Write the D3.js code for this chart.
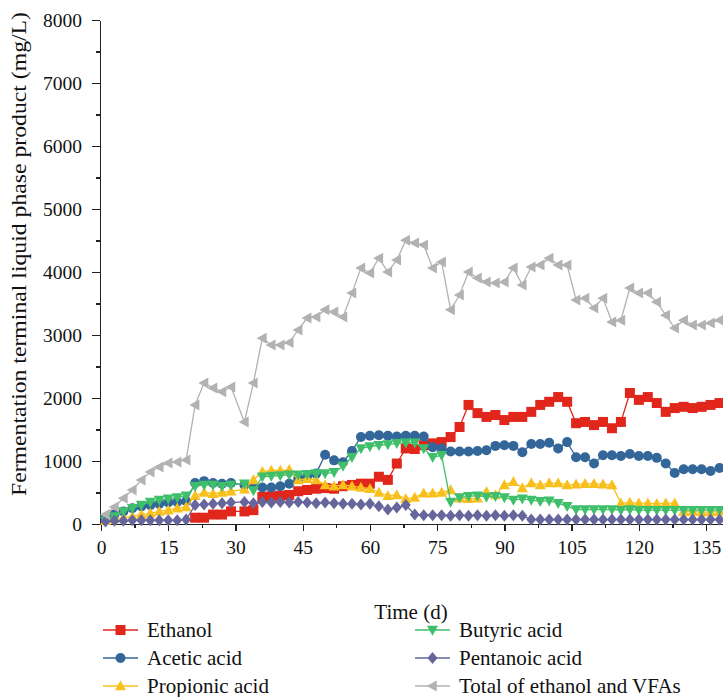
<!DOCTYPE html>
<html lang="en">
  <head>
    <meta charset="UTF-8"/>
    <title>Fermentation products</title>
    <script src="https://d3js.org/d3.v7.min.js"></script>
    <style>
      body { margin: 0; background: #fff; }
      text {
        font-family: 'Liberation Serif', 'DejaVu Serif', serif;
        fill: #111;
      }
      .axis path,
      .axis line {
        fill: none;
        stroke: #222;
        stroke-width: 1.3px;
        shape-rendering: crispEdges;
      }
      .tick text { font-size: 19.5px; }
      .axis-label { font-size: 21px; }
      .legend text { font-size: 21px; }
    </style>
  </head>
  <body>
    <script type="text/javascript">

      // sampling days (d)
      const days = [1, 3, 5, 7, 9, 11, 13, 15, 17, 19, 21, 23, 25, 27, 29, 32,
        34, 36, 38, 40, 42, 44, 46, 48, 50, 52, 54, 56, 58, 60, 62, 64, 66, 68, 70,
        72, 74, 76, 78, 80, 82, 84, 86, 88, 90, 92, 94, 96, 98, 100, 102, 104, 106,
        108, 110, 112, 114, 116, 118, 120, 122, 124, 126, 128, 130, 132, 134, 136, 138]

      // ethanol was not measured before day 21
      const ethanol = [null, null, null, null, null, null, null, null, null, null, 100, 100, 150, 150, 200, 200,
        220, 430, 440, 450, 460, 520, 540, 560, 570, 560, 600, 620, 640, 640, 750, 700, 960, 1200, 1190,
        1250, 1280, 1300, 1380, 1540, 1890, 1760, 1700, 1730, 1650, 1700, 1700, 1780, 1890, 1940, 2015, 1940, 1600,
        1620, 1570, 1620, 1520, 1620, 2080, 1970, 2015, 1920, 1780, 1840, 1860, 1840, 1860, 1890, 1920]

      const acetic = [100, 150, 200, 250, 280, 300, 320, 340, 350, 360, 650, 680, 650, 640, 650, 620,
        600, 580, 580, 600, 640, 720, 760, 800, 1100, 1010, 980, 1160, 1380, 1400, 1410, 1400, 1390, 1400, 1400,
        1390, 1220, 1200, 1150, 1150, 1150, 1160, 1170, 1240, 1250, 1240, 1140, 1270, 1270, 1290, 1200, 1300, 1060,
        1060, 960, 1090, 1090, 1080, 1110, 1080, 1080, 1050, 960, 810, 870, 870, 870, 840, 890]

      const propionic = [50, 80, 100, 120, 150, 170, 200, 220, 250, 270, 450, 500, 480, 500, 520, 550,
        700, 830, 850, 850, 860, 700, 720, 700, 620, 600, 620, 600, 580, 560, 500, 450, 460, 400, 420,
        490, 490, 500, 540, 410, 400, 410, 510, 460, 620, 670, 570, 650, 620, 650, 650, 620, 630,
        640, 640, 630, 620, 330, 340, 330, 330, 320, 330, 330, 200, 200, 190, 190, 200]

      const butyric = [50, 120, 200, 250, 300, 350, 380, 400, 420, 450, 600, 620, 620, 600, 620, 640,
        530, 750, 760, 770, 780, 780, 790, 800, 800, 820, 920, 1060, 1200, 1230, 1250, 1260, 1280, 1290, 1290,
        1200, 1060, 1090, 350, 420, 440, 450, 430, 440, 420, 380, 400, 380, 360, 370, 330, 280, 230,
        230, 230, 230, 230, 220, 230, 220, 220, 220, 220, 220, 220, 220, 220, 220, 220]

      const pentanoic = [40, 50, 50, 60, 60, 60, 60, 60, 60, 70, 300, 310, 320, 330, 340, 350,
        330, 350, 340, 350, 340, 350, 340, 330, 340, 330, 320, 320, 310, 320, 280, 230, 260, 300, 150,
        140, 140, 140, 130, 140, 130, 140, 130, 140, 130, 140, 130, 70, 70, 70, 70, 70, 70,
        70, 70, 70, 70, 70, 70, 70, 70, 70, 70, 70, 70, 70, 70, 70, 70]

      const total = [150, 270, 410, 540, 700, 825, 905, 970, 985, 1015, 1890, 2240, 2160, 2100, 2175, 1620,
        2240, 2950, 2840, 2840, 2880, 3080, 3270, 3285, 3400, 3365, 3285, 3665, 4065, 3985, 4220, 4000, 4190, 4505, 4460,
        4430, 4065, 4160, 3400, 3635, 4000, 3905, 3840, 3825, 3840, 4065, 3795, 4080, 4110, 4220, 4110, 4110, 3555,
        3585, 3430, 3585, 3205, 3235, 3745, 3665, 3665, 3525, 3315, 3110, 3235, 3160, 3160, 3190, 3235]

      const xTicks = [0, 15, 30, 45, 60, 75, 90, 105, 120, 135]
      const yTicks = [0, 1000, 2000, 3000, 4000, 5000, 6000, 7000, 8000]

      const series = [
        {name: "Ethanol", values: ethanol, color: "#e1261c", marker: "square"},
        {name: "Acetic acid", values: acetic, color: "#336699", marker: "circle"},
        {name: "Propionic acid", values: propionic, color: "#f8c01c", marker: "up"},
        {name: "Butyric acid", values: butyric, color: "#40bf6b", marker: "down"},
        {name: "Pentanoic acid", values: pentanoic, color: "#66659c", marker: "diamond"},
        {name: "Total of ethanol and VFAs", values: total, color: "#b2b2b2", marker: "left"}
      ]

      const outerWidth = 723,
            outerHeight = 697

      const svg = d3.select("body").append("svg")
          .attr("width", outerWidth)
          .attr("height", outerHeight)

      const xScale = d3.scaleLinear().domain([0, 139]).range([101, 724])
      const yScale = d3.scaleLinear().domain([0, 8000]).range([524, 20])

      // marker paths centred on 0,0
      const markerPath = (type, s) => {
        const h = s / 2
        switch (type) {
          case "square": return `M${-h},${-h}h${s}v${s}h${-s}Z`
          case "circle": return d3.symbol(d3.symbolCircle, Math.PI * h * h)()
          case "up": return `M0,${-h * 1.15}L${h * 1.1},${h * 0.85}L${-h * 1.1},${h * 0.85}Z`
          case "down": return `M0,${h * 1.15}L${h * 1.1},${-h * 0.85}L${-h * 1.1},${-h * 0.85}Z`
          case "left": return `M${-h * 1.15},0L${h * 0.85},${-h * 1.1}L${h * 0.85},${h * 1.1}Z`
          case "diamond": return `M0,${-h * 1.2}L${h * 1.0},0L0,${h * 1.2}L${-h * 1.0},0Z`
        }
      }

      // axes
      const xAxis = d3.axisBottom(xScale)
          .tickValues(xTicks).tickSize(7).tickSizeOuter(0).tickPadding(9)
      const xMinor = d3.axisBottom(xScale)
          .tickValues(xTicks.map(t => t + 7.5).filter(t => t < 139)).tickSize(4).tickSizeOuter(0).tickFormat("")

      svg.append("g").attr("class", "axis")
          .attr("transform", `translate(0,${yScale(0)})`)
          .call(xMinor)
      svg.append("g").attr("class", "axis")
          .attr("transform", `translate(0,${yScale(0)})`)
          .call(xAxis)

      const yAxis = d3.axisLeft(yScale)
          .tickValues(yTicks).tickFormat(d3.format("d"))
          .tickSize(8).tickSizeOuter(0).tickPadding(10)
      const yMinor = d3.axisLeft(yScale)
          .tickValues(yTicks.slice(0, -1).map(t => t + 500)).tickSize(4).tickSizeOuter(0).tickFormat("")

      svg.append("g").attr("class", "axis")
          .attr("transform", `translate(${xScale(0) - 1},0)`)
          .call(yMinor)
      svg.append("g").attr("class", "axis")
          .attr("transform", `translate(${xScale(0) - 1},0)`)
          .call(yAxis)

      svg.append("text")
          .attr("class", "axis-label")
          .attr("x", 411).attr("y", 619)
          .attr("text-anchor", "middle")
          .text("Time (d)")

      svg.append("text")
          .attr("class", "axis-label")
          .attr("transform", `translate(26,${(12 + 496) / 2}) rotate(-90)`)
          .attr("text-anchor", "middle")
          .attr("textLength", 484)
          .attr("lengthAdjust", "spacingAndGlyphs")
          .text("Fermentation terminal liquid phase product (mg/L)")

      // series
      const line = d3.line()
          .defined(d => d != null)
          .x((d, i) => xScale(days[i]))
          .y(d => yScale(d))

      series.forEach(s => {
        const g = svg.append("g")
        g.append("path")
            .attr("d", line(s.values))
            .attr("fill", "none")
            .attr("stroke", s.color)
            .attr("stroke-width", 1.3)
        g.selectAll("path.m")
          .data(s.values.map((v, i) => ({day: days[i], v})).filter(d => d.v != null))
          .join("path")
            .attr("class", "m")
            .attr("transform", d => `translate(${xScale(d.day)},${yScale(d.v)})`)
            .attr("d", markerPath(s.marker, 10))
            .attr("fill", s.color)
      })

      // legend, two columns of three
      const legend = svg.append("g").attr("class", "legend")
      series.forEach((s, i) => {
        const col = Math.floor(i / 3), row = i % 3
        const lx = 103 + col * 312, ly = 630 + row * 28
        const item = legend.append("g").attr("transform", `translate(${lx},${ly})`)
        item.append("line")
            .attr("x1", 0).attr("x2", 35)
            .attr("stroke", s.color).attr("stroke-width", 1.3)
        item.append("path")
            .attr("transform", "translate(17.5,0)")
            .attr("d", markerPath(s.marker, 10))
            .attr("fill", s.color)
        item.append("text")
            .attr("x", 44).attr("y", 0)
            .attr("dy", "0.35em")
            .text(s.name)
      })

    </script>
  </body>
</html>
